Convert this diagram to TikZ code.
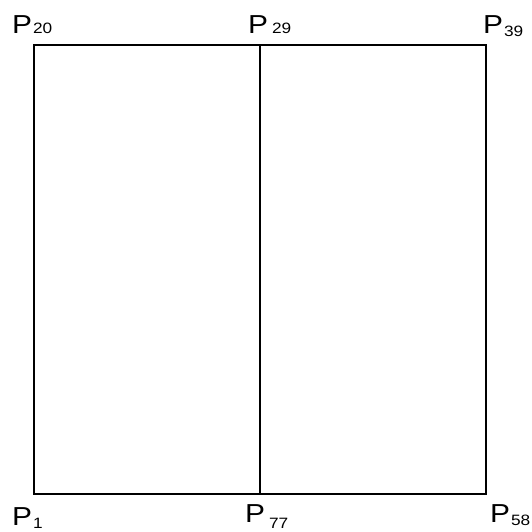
\documentclass[tikz,border=0pt]{standalone}
\usepackage{fontspec}
\newfontfamily\lblfont[FakeStretch=1.15]{Liberation Sans}
\usetikzlibrary{positioning,calc}

% label P with subscript: #1 gap, #2 drop, #3 digits
\newcommand{\plab}[3]{\fontsize{26}{26}\selectfont P\kern#1pt\raisebox{-#2pt}{\fontsize{15}{15}\selectfont #3}}

\begin{document}
\begin{tikzpicture}[
  x=1pt, y=-1pt,
  edge/.style={draw=black, line width=2pt},
  lbl/.style={anchor=base west, inner sep=0pt, font=\lblfont}
]
\useasboundingbox (0,0) rectangle (532,531);

% corner points
\coordinate (p20) at (34,45);
\coordinate (p29) at (260,45);
\coordinate (p39) at (486,45);
\coordinate (p1) at (34,494);
\coordinate (p77) at (260,494);
\coordinate (p58) at (486,494);

% outline and middle line
\draw[edge] (p1) -- (p20) -- (p29) -- (p39) -- (p58) -- (p77) -- cycle;
\draw[edge] (p29) -- (p77);

% labels
\node[lbl] (l20) at (12,33) {\plab{1}{0}{20}};
\node[lbl] (l29) at (248,33) {\plab{4}{0}{29}};
\node[lbl] (l39) at (483,33) {\plab{1}{3}{39}};
\node[lbl] (l1) at (12,525) {\plab{1}{3}{1}};
\node[lbl] (l77) at (245,522) {\plab{4}{6}{77}};
\node[lbl] (l58) at (490,522) {\plab{1}{3}{58}};

\end{tikzpicture}
\end{document}
